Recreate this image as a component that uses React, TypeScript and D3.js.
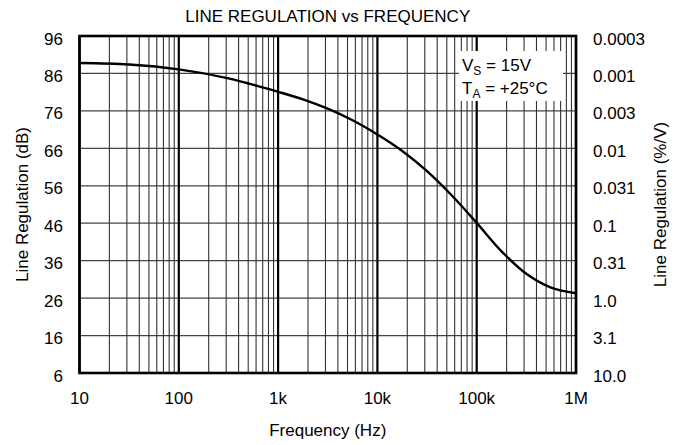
import * as d3 from 'd3';

// values (Hz, dB)
const freqHz = [10, 31.6, 100, 316, 1000, 1780, 3160, 5620, 10000, 17800, 31600, 56200, 100000, 178000, 316000, 562000, 1000000];
const regDb = [88.8, 88.4, 87.1, 84.7, 81.1, 79.1, 76.6, 73.5, 69.7, 65.3, 59.9, 53.4, 46.1, 38.5, 32.5, 28.8, 27.3];

const dbTicks = [96, 86, 76, 66, 56, 46, 36, 26, 16, 6];
const pctTicks = ['0.0003', '0.001', '0.003', '0.01', '0.031', '0.1', '0.31', '1.0', '3.1', '10.0'];
const freqTicks = [10, 100, 1000, 10000, 100000, 1000000];
const freqLabels = ['10', '100', '1k', '10k', '100k', '1M'];

const W = 681;
const H = 445;
const margin = { top: 36, right: 105, bottom: 72, left: 79.5 };

export default function App() {
  const x = d3.scaleLog().domain([10, 1e6]).range([margin.left, W - margin.right]);
  const y = d3.scaleLinear().domain([6, 96]).range([H - margin.bottom, margin.top]);

  const minor: number[] = [];
  for (let dec = 10; dec < 1e6; dec *= 10) {
    for (let k = 2; k <= 9; k++) minor.push(dec * k);
  }

  const line = d3.line<number>()
    .x((_, i) => x(freqHz[i]))
    .y(d => y(d))
    .curve(d3.curveCatmullRom.alpha(0.5));

  const font = '"Liberation Sans", Arial, sans-serif';
  const x0 = x.range()[0], x1 = x.range()[1];
  const y0 = y.range()[1], y1 = y.range()[0];
  const fs = 17;

  return (
    <svg width={W} height={H} style={{ position: 'absolute', left: 0, top: 0, background: '#fff' }} fontFamily={font}>
      <text x={(x0 + x1) / 2} y={21.5} textAnchor="middle" fontSize={fs}>LINE REGULATION vs FREQUENCY</text>

      {/* horizontal grid */}
      {dbTicks.map(t => (
        <line key={'h' + t} x1={x0} x2={x1} y1={y(t)} y2={y(t)} stroke="#444" strokeWidth={1.2} />
      ))}
      {/* minor vertical grid */}
      {minor.map(f => (
        <line key={'m' + f} x1={x(f)} x2={x(f)} y1={y0} y2={y1} stroke="#333" strokeWidth={1.1} />
      ))}
      {/* decade lines */}
      {freqTicks.map(f => (
        <line key={'d' + f} x1={x(f)} x2={x(f)} y1={y0} y2={y1} stroke="#000" strokeWidth={2.2} />
      ))}

      <rect x={459} y={51} width={104} height={50} fill="#fff" />
      <text x={462} y={71} fontSize={fs}>V<tspan fontSize={12} dy={4}>S</tspan><tspan dy={-4}> = 15V</tspan></text>
      <text x={462} y={94} fontSize={fs}>T<tspan fontSize={12} dy={4}>A</tspan><tspan dy={-4}> = +25°C</tspan></text>

      <path d={line(regDb) || ''} fill="none" stroke="#000" strokeWidth={2.4} />

      <rect x={x0} y={y0} width={x1 - x0} height={y1 - y0} fill="none" stroke="#000" strokeWidth={2.6} />

      {dbTicks.map(t => (
        <text key={'l' + t} x={63} y={y(t) + 8.5} textAnchor="end" fontSize={fs}>{t}</text>
      ))}
      {pctTicks.map((t, i) => (
        <text key={'r' + t} x={593} y={y(dbTicks[i]) + 8.5} fontSize={fs}>{t}</text>
      ))}
      {freqTicks.map((f, i) => (
        <text key={'x' + f} x={x(f)} y={404} textAnchor="middle" fontSize={fs}>{freqLabels[i]}</text>
      ))}
      <text x={(x0 + x1) / 2} y={436} textAnchor="middle" fontSize={fs}>Frequency (Hz)</text>
      <text transform={`translate(28,${(y0 + y1) / 2}) rotate(-90)`} textAnchor="middle" fontSize={fs}>Line Regulation (dB)</text>
      <text transform={`translate(666,${(y0 + y1) / 2}) rotate(-90)`} textAnchor="middle" fontSize={fs}>Line Regulation (%/V)</text>
    </svg>
  );
}
